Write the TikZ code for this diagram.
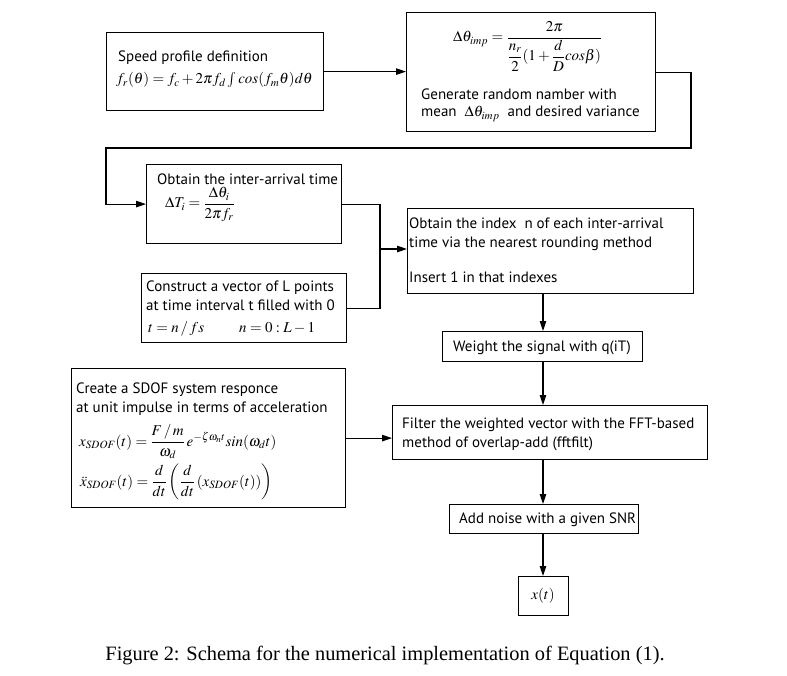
\documentclass[tikz,border=0pt]{standalone}
\usepackage{amsmath}
\usepackage{mathptmx}
\usepackage[no-math]{fontspec}
\setmainfont{Liberation Serif}
\newfontfamily\boxfont{PT Sans}
\usetikzlibrary{arrows.meta}
\begin{document}
\begin{tikzpicture}[x=1pt,y=-1pt,
  box/.style={draw, line width=1.2pt, inner sep=0pt, anchor=north west},
  txt/.style={anchor=base west, inner sep=0pt, font=\boxfont\fontsize{15}{18}\selectfont},
  mth/.style={anchor=base west, inner sep=0pt, font=\fontsize{15}{18}\selectfont},
  conn/.style={line width=1.1pt},
  arr/.style={conn, -{Triangle[length=10pt,width=6.5pt]}},
]
\useasboundingbox (0,0) rectangle (787,676);
% boxes
\node[box, minimum width=217pt, minimum height=78pt]  (b1)  at (106,32)  {};
\node[box, minimum width=249pt, minimum height=119pt] (b2)  at (406,12)  {};
\node[box, minimum width=195pt, minimum height=79pt]  (b3)  at (146,164) {};
\node[box, minimum width=205pt, minimum height=69pt]  (b4)  at (141,273) {};
\node[box, minimum width=286pt, minimum height=85pt]  (b5)  at (407,208) {};
\node[box, minimum width=200pt, minimum height=30pt]  (b6)  at (442,331) {};
\node[box, minimum width=274pt, minimum height=139pt] (b7)  at (71,368)  {};
\node[box, minimum width=315pt, minimum height=54pt]  (b8)  at (392,405) {};
\node[box, minimum width=189pt, minimum height=29pt]  (b9)  at (449,504) {};
\node[box, minimum width=50pt,  minimum height=39pt]  (b10) at (518,576) {};
% texts
\node[txt] (t1a) at (118,62) {Speed profile definition};
\node[mth] (t1b) at (116,84) {$f_r(\theta) = f_c + 2\pi f_d \int cos(f_m\theta)d\theta$};
\node[mth] (t2a) at (453,42) {$\Delta\theta_{imp} = \dfrac{2\pi}{\dfrac{n_r}{2}(1+\dfrac{d}{D}cos\beta)}$};
\node[txt] (t2b) at (421,100) {Generate random namber with};
\node[txt] (t2c) at (421,117) {mean \ $\Delta\theta_{imp}$ \ and desired variance};
\node[txt] (t3a) at (157,185) {Obtain the inter-arrival time};
\node[mth] (t3b) at (165,208) {$\Delta T_i = \dfrac{\Delta\theta_i}{2\pi f_r}$};
\node[txt] (t4a) at (146,291) {Construct a vector of L points};
\node[txt] (t4b) at (146,310) {at time interval t filled with 0};
\node[mth] (t4c) at (148,332) {$t = n\,/\,fs$};
\node[mth] (t4d) at (239,332) {$n = 0 : L-1$};
\node[txt] (t5a) at (409,229) {Obtain the index~ n of each inter-arrival};
\node[txt] (t5b) at (409,248) {time via the nearest rounding method};
\node[txt] (t5c) at (409,283) {Insert 1 in that indexes};
\node[txt, anchor=base] (t6) at (542,351) {Weight the signal with q(iT)};
\node[txt] (t7a) at (76,393) {Create a SDOF system responce};
\node[txt] (t7b) at (76,412) {at unit impulse in terms of acceleration};
\node[mth] (t7c) at (79,446) {$x_{SDOF}(t) = \dfrac{F\,/\,m}{\omega_d}\, e^{-\zeta\omega_n t} sin(\omega_d t)$};
\node[mth] (t7d) at (80,486) {$\ddot{x}_{SDOF}(t) = \dfrac{d}{dt}\left(\dfrac{d}{dt}\left(x_{SDOF}(t)\right)\right)$};
\node[txt] (t8a) at (402,428) {Filter the weighted vector with the FFT-based};
\node[txt] (t8b) at (402,447) {method of overlap-add (fftfilt)};
\node[txt] (t9) at (459,523) {Add noise with a given SNR};
\node[mth, anchor=center] (t10) at (543,596) {$x(t)$};
\node[anchor=base, inner sep=0pt, font=\fontsize{20.4}{24}\selectfont] (cap) at (385,660) {Figure 2: Schema for the numerical implementation of Equation (1).};
% connectors
\coordinate (lr) at (691,148);
\coordinate (ll) at (106,148);
\coordinate (m) at (380,249);
\coordinate (vx) at (543,0);
\draw[arr] (b1.east) -- (b1.east -| b2.west);
\draw[arr] (b2.east) -| (lr) -- (ll) |- (b3.west);
\draw[conn] (b3.east) -| (m);
\draw[conn] (b4.east) -| (m);
\draw[arr] (m) -- (m -| b5.west);
\draw[arr] (b5.south -| vx) -- (b6.north -| vx);
\draw[arr] (b6.south -| vx) -- (b8.north -| vx);
\draw[arr] (b7.east) -- (b7.east -| b8.west);
\draw[arr] (b8.south -| vx) -- (b9.north -| vx);
\draw[arr] (b9.south -| vx) -- (b10.north -| vx);
\end{tikzpicture}
\end{document}
